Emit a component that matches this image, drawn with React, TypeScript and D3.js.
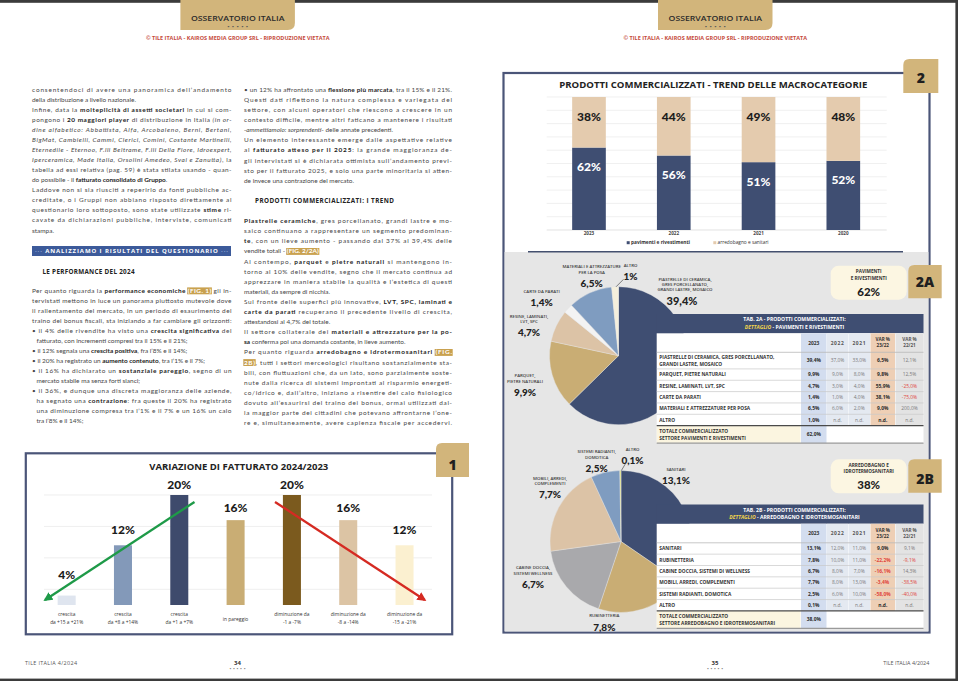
import React, { useLayoutEffect, useRef } from "react";
import * as d3 from "d3";

const BODY = "Lato, 'Open Sans', sans-serif";
const HEAD = "'Open Sans', Lato, sans-serif";
const HEAVY = "Lato, 'Open Sans', sans-serif";

// ---------------- DATA ----------------
const FIG1_CATEGORIES = ["c15-21", "c8-14", "c1-7", "pareggio", "d1-7", "d8-14", "d15-21"];
const FIG1_CATEGORY_LINES = [
  ["crescita", "da +15 a +21%"],
  ["crescita", "da +8 a +14%"],
  ["crescita", "da +1 a +7%"],
  ["in pareggio"],
  ["diminuzione da", "-1 a -7%"],
  ["diminuzione da", "-8 a -14%"],
  ["diminuzione da", "-15 a -21%"],
];
const FIG1_VALUES = [4, 12, 20, 16, 20, 16, 12];
const FIG1_GRID = [5, 10, 15, 20];
// trend arrows in data space: [category index (fractional), value]
const FIG1_ARROW_GREEN = [[2.27, 18.9], [-0.385, 3.3]];
const FIG1_ARROW_RED = [[3.7, 18.9], [6.36, 3.3]];

const FIG2_YEARS = ["2023", "2022", "2021", "2020"];
const FIG2_PAVIMENTI = [62, 56, 51, 52];
const FIG2_ARREDO = [38, 44, 49, 48];
const FIG2_SERIES = ["pavimenti e rivestimenti", "arredobagno e sanitari"];

const PIE_A_NAMES = [
  ["PIASTRELLE DI CERAMICA,", "GRES PORCELLANATO,", "GRANDI LASTRE, MOSAICO"],
  ["PARQUET,", "PIETRE NATURALI"],
  ["RESINE, LAMINATI,", "LVT, SPC"],
  ["CARTE DA PARATI"],
  ["MATERIALI E ATTREZZATURE", "PER LA POSA"],
  ["ALTRO"],
];
const PIE_A_VALUES = [39.4, 9.9, 4.7, 1.4, 6.5, 1.0];
const PIE_A_LABELS = ["39,4%", "9,9%", "4,7%", "1,4%", "6,5%", "1%"];

const PIE_B_NAMES = [
  ["SANITARI"],
  ["RUBINETTERIA"],
  ["CABINE DOCCIA,", "SISTEMI WELLNESS"],
  ["MOBILI, ARREDI,", "COMPLEMENTI"],
  ["SISTEMI RADIANTI,", "DOMOTICA"],
  ["ALTRO"],
];
const PIE_B_VALUES = [13.1, 7.8, 6.7, 7.7, 2.5, 0.1];
const PIE_B_LABELS = ["13,1%", "7,8%", "6,7%", "7,7%", "2,5%", "0,1%"];

const TAB_A_ROWS = [
  ["PIASTRELLE DI CERAMICA, GRES PORCELLANATO,", "GRANDI LASTRE, MOSAICO"],
  ["PARQUET, PIETRE NATURALI"],
  ["RESINE, LAMINATI, LVT, SPC"],
  ["CARTE DA PARATI"],
  ["MATERIALI E ATTREZZATURE PER POSA"],
  ["ALTRO"],
];
const TAB_A_2023 = ["39,4%", "9,9%", "4,7%", "1,4%", "6,5%", "1,0%"];
const TAB_A_2022 = ["37,0%", "9,0%", "3,0%", "1,0%", "6,0%", "n.d."];
const TAB_A_2021 = ["33,0%", "8,0%", "4,0%", "4,0%", "2,0%", "n.d."];
const TAB_A_VAR1 = ["6,5%", "9,8%", "55,9%", "38,1%", "9,0%", "n.d."];
const TAB_A_VAR2 = ["12,1%", "12,5%", "-25,0%", "-75,0%", "200,0%", "n.d."];
const TAB_A_TOTAL = "62,0%";

const TAB_B_ROWS = [
  ["SANITARI"],
  ["RUBINETTERIA"],
  ["CABINE DOCCIA, SISTEMI DI WELLNESS"],
  ["MOBILI, ARREDI, COMPLEMENTI"],
  ["SISTEMI RADIANTI, DOMOTICA"],
  ["ALTRO"],
];
const TAB_B_2023 = ["13,1%", "7,8%", "6,7%", "7,7%", "2,5%", "0,1%"];
const TAB_B_2022 = ["12,0%", "10,0%", "8,0%", "8,0%", "6,0%", "n.d."];
const TAB_B_2021 = ["11,0%", "11,0%", "7,0%", "13,0%", "10,0%", "n.d."];
const TAB_B_VAR1 = ["9,0%", "-22,2%", "-16,1%", "-3,4%", "-58,0%", "n.d."];
const TAB_B_VAR2 = ["9,1%", "-9,1%", "14,3%", "-38,5%", "-40,0%", "n.d."];
const TAB_B_TOTAL = "38,0%";

const TAB_HEAD = [["2023"], ["2022"], ["2021"], ["VAR %", "23/22"], ["VAR %", "22/21"]];

const COL1_A = [
  { t: "consentendoci di avere una panoramica dell’andamento", j: 1 },
  { t: "della distribuzione a livello nazionale.", j: 0 },
  { t: "Infine, data la **molteplicità di assetti societari** in cui si com-", j: 1 },
  { t: "pongono i **20 maggiori player** di distribuzione in Italia _(in or-_", j: 1 },
  { t: "_dine alfabetico: Abbattista, Alfa, Arcobaleno, Berni, Bertani,_", j: 1 },
  { t: "_BigMat, Cambielli, Cammi, Clerici, Comini, Costante Martinelli,_", j: 1 },
  { t: "_Eternedile - Eternoo, F.lli Beltrame, F.lli Della Fiore, Idroexpert,_", j: 1 },
  { t: "_Iperceramica, Made Italia, Orsolini Amedeo, Svai e Zanutta)_, la", j: 1 },
  { t: "tabella ad essi relativa (pag. 59) è stata stilata usando - quan-", j: 1 },
  { t: "do possibile - il **fatturato consolidato di Gruppo**.", j: 0 },
  { t: "Laddove non si sia riusciti a reperirlo da fonti pubbliche ac-", j: 1 },
  { t: "creditate, o i Gruppi non abbiano risposto direttamente al", j: 1 },
  { t: "questionario loro sottoposto, sono state utilizzate **stime** ri-", j: 1 },
  { t: "cavate da dichiarazioni pubbliche, interviste, comunicati", j: 1 },
  { t: "stampa.", j: 0 },
];
const COL1_B = [
  { t: "Per quanto riguarda la **performance economiche** {{(FIG. 1)}} gli in-", j: 1 },
  { t: "tervistati mettono in luce un panorama piuttosto mutevole dove", j: 1 },
  { t: "il rallentamento del mercato, in un periodo di esaurimento del", j: 1 },
  { t: "traino dei bonus fiscali, sta iniziando a far cambiare gli orizzonti:", j: 1 },
  { t: "• il 4% delle rivendite ha visto una **crescita significativa** del", j: 1 },
  { t: "fatturato, con incrementi compresi tra il 15% e il 21%;", j: 0, ind: 1 },
  { t: "• il 12% segnala una **crescita positiva**, fra l’8% e il 14%;", j: 0 },
  { t: "• il 20% ha registrato un **aumento contenuto**, tra l’1% e il 7%;", j: 0 },
  { t: "• il 16% ha dichiarato un **sostanziale pareggio**, segno di un", j: 1 },
  { t: "mercato stabile ma senza forti slanci;", j: 0, ind: 1 },
  { t: "• il 36%, e dunque una discreta maggioranza delle aziende,", j: 1 },
  { t: "ha segnato una **contrazione**: fra queste il 20% ha registrato", j: 1, ind: 1 },
  { t: "una diminuzione compresa tra l’1% e il 7% e un 16% un calo", j: 1, ind: 1 },
  { t: "tra l’8% e il 14%;", j: 0, ind: 1 },
];
const COL2_A = [
  { t: "• un 12% ha affrontato una **flessione più marcata**, tra il 15% e il 21%.", j: 1 },
  { t: "Questi dati riflettono la natura complessa e variegata del", j: 1 },
  { t: "settore, con alcuni operatori che riescono a crescere in un", j: 1 },
  { t: "contesto difficile, mentre altri faticano a mantenere i risultati", j: 1 },
  { t: "_-ammettiamolo: sorprendenti-_ delle annate precedenti.", j: 0 },
  { t: "Un elemento interessante emerge dalle aspettative relative", j: 1 },
  { t: "al **fatturato atteso per il 2025**: la grande maggioranza de-", j: 1 },
  { t: "gli intervistati si è dichiarata ottimista sull’andamento previ-", j: 1 },
  { t: "sto per il fatturato 2025, e solo una parte minoritaria si atten-", j: 1 },
  { t: "de invece una contrazione del mercato.", j: 0 },
];
const COL2_B = [
  { t: "**Piastrelle ceramiche**, gres porcellanato, grandi lastre e mo-", j: 1 },
  { t: "saico continuano a rappresentare un segmento predominan-", j: 1 },
  { t: "**te**, con un lieve aumento - passando dal 37% al 39,4% delle", j: 1 },
  { t: "vendite totali - {{(FIG. 2/2A)}}", j: 0 },
  { t: "Al contempo, **parquet** e **pietre naturali** si mantengono in-", j: 1 },
  { t: "torno al 10% delle vendite, segno che il mercato continua ad", j: 1 },
  { t: "apprezzare in maniera stabile la qualità e l’estetica di questi", j: 1 },
  { t: "materiali, da sempre di nicchia.", j: 0 },
  { t: "Sul fronte delle superfici più innovative, **LVT, SPC, laminati e**", j: 1 },
  { t: "**carte da parati** recuperano il precedente livello di crescita,", j: 1 },
  { t: "attestandosi al 4,7% del totale.", j: 0 },
  { t: "Il settore collaterale dei **materiali e attrezzature per la po-**", j: 1 },
  { t: "**sa** conferma poi una domanda costante, in lieve aumento.", j: 0 },
  { t: "Per quanto riguarda **arredobagno e idrotermosanitari** {{(FIG.}}", j: 1 },
  { t: "{{2B)}}, tutti i settori merceologici risultano sostanzialmente sta-", j: 1 },
  { t: "bili, con fluttuazioni che, da un lato, sono parzialmente soste-", j: 1 },
  { t: "nute dalla ricerca di sistemi improntati al risparmio energeti-", j: 1 },
  { t: "co/idrico e, dall’altro, iniziano a risentire del calo fisiologico", j: 1 },
  { t: "dovuto all’esaurirsi del traino dei bonus, ormai utilizzati dal-", j: 1 },
  { t: "la maggior parte dei cittadini che potevano affrontarne l’one-", j: 1 },
  { t: "re e, simultaneamente, avere capienza fiscale per accedervi.", j: 1 },
];

// ---------------- STYLE / LAYOUT ----------------
const NAVY = "#3f4e72";
const TAN = "#d2b57b";
const FIG1_COLORS = ["#dfe5ef", "#8399b9", "#3e4a6c", "#c9ad74", "#7b5a1e", "#dcc4a4", "#fbf0d0"];
const FIG2_COLORS = [NAVY, "#e4cbae"];
const PIE_A_COLORS = [NAVY, "#c9ad74", "#dcc3a6", "#f3f3f3", "#7f9cc0", "#f4efdc"];
const PIE_B_COLORS = [NAVY, "#c9ad74", "#a9a9ac", "#dcc3a6", "#7f9cc0", "#dfe07a"];
const PIE_A_LAYOUT = [[66.5, -76.7], [-93.5, 20], [-89.5, -39.7], [-76.8, -64.7], [-26.8, -89], [12, -90.7]];
const PIE_B_LAYOUT = [[55, -72.2], [-16.7, 74.2], [-88, 26.2], [-71, -63.2], [-24.3, -89.8], [11.5, -92.2]];
const TABLE_COLS = [
  { x0: 801, x1: 826.5, bg: "#d3ddef" },
  { x0: 827, x1: 848, bg: "#e4e9f1" },
  { x0: 848.5, x1: 870, bg: "#e4e9f1" },
  { x0: 870.5, x1: 895, bg: "#eecfb5" },
  { x0: 895.5, x1: 923.5, bg: "#e3e3e3" },
];
const TAB_X0 = 656.7;
const TAB_X1 = 923.5;

type Seg = { t: string; b?: boolean; i?: boolean; hl?: boolean };
function parse(s: string): Seg[] {
  return s
    .split(/(\*\*[^*]+\*\*|_[^_]+_|\{\{[^}]+\}\})/)
    .filter((p) => p.length)
    .map((p) => {
      if (p.startsWith("**")) return { t: p.slice(2, -2), b: true };
      if (p.startsWith("{{")) return { t: p.slice(2, -2), hl: true };
      if (p.length > 1 && p.startsWith("_") && p.endsWith("_")) return { t: p.slice(1, -1), i: true };
      return { t: p };
    });
}

function Lines({ lines, x, width, base, step, start }: any) {
  return (
    <g>
      {lines.map((ln: any, k: number) => {
        const ind = ln.ind ? 4.4 : 0;
        const segs = parse(ln.t);
        return (
          <text
            key={k}
            x={x + ind}
            y={base + (start + k) * step}
            fontSize={6.45}
            fill="#474747"
            fontFamily={BODY}
            textLength={ln.j ? width - ind : undefined}
            lengthAdjust="spacing"
          >
            {segs.map((s, m) => (
              <tspan
                key={m}
                className={s.hl ? "hl" : undefined}
                fontWeight={s.b || s.hl ? 700 : undefined}
                fontStyle={s.i ? "italic" : undefined}
                fill={s.hl ? "#ffffff" : s.b ? "#222" : undefined}
              >
                {s.t}
              </tspan>
            ))}
          </text>
        );
      })}
    </g>
  );
}

function tagPath(x: number, y: number, w: number, h: number, r: number) {
  return `M${x},${y + h} V${y + r} Q${x},${y} ${x + r},${y} H${x + w} V${y + h} Z`;
}
function headerTabPath(x: number, y: number, w: number, h: number, r: number) {
  return `M${x},${y} H${x + w} V${y + h - r} Q${x + w},${y + h} ${x + w - r},${y + h} H${x} Z`;
}

function HeaderTab({ cx }: { cx: number }) {
  return (
    <g>
      <path d={headerTabPath(cx - 57.3, 0, 114.5, 30, 7)} fill={TAN} />
      <text x={cx} y={20.5} textAnchor="middle" fontFamily={HEAD} fontWeight={600} fontSize={7.6} fill="#2b2b2b" textLength={93.5} lengthAdjust="spacingAndGlyphs">
        OSSERVATORIO ITALIA
      </text>
      <text x={cx} y={27.6} textAnchor="middle" fontSize={4} fill="#5a5a5a" textLength={21} lengthAdjust="spacing">
        •••••
      </text>
      <text x={cx} y={40} textAnchor="middle" fontFamily={HEAD} fontWeight={700} fontSize={4.7} fill="#c54b3c" textLength={183.5} lengthAdjust="spacingAndGlyphs">
        © TILE ITALIA - KAIROS MEDIA GROUP SRL - RIPRODUZIONE VIETATA
      </text>
    </g>
  );
}

function Tag({ x, y, w, h, label, base }: any) {
  return (
    <g>
      <path d={tagPath(x, y, w, h, 6)} fill={TAN} />
      <text x={x + w / 2} y={base} textAnchor="middle" fontFamily={HEAD} fontWeight={800} fontSize={14} fill="#1f1f1f">
        {label}
      </text>
    </g>
  );
}

function Callout({ y, lines, value }: any) {
  return (
    <g>
      <rect x={830.7} y={y} width={76} height={34} rx={8} fill="#fcf6e2" />
      {lines.map((l: string, k: number) => (
        <text key={k} x={868.7} y={y + 7.7 + k * 6.3} textAnchor="middle" fontFamily={HEAD} fontWeight={700} fontSize={4.7} fill="#333">
          {l}
        </text>
      ))}
      <text x={868.7} y={y + 29.8} textAnchor="middle" fontFamily={HEAVY} fontWeight={900} fontSize={11.5} fill="#1e1e1e">
        {value}
      </text>
    </g>
  );
}

function Pie({ cx, cy, r, values, colors, names, labels, layout, leader }: any) {
  const pie = d3.pie<number>().sort(null).value((d) => d)(values);
  const arc = d3.arc<d3.PieArcDatum<number>>().innerRadius(0).outerRadius(r);
  return (
    <g>
      <g transform={`translate(${cx},${cy})`}>
        {pie.map((d, k) => (
          <path key={k} d={arc(d) || ""} fill={colors[k]} stroke="#e6e6e6" strokeWidth={0.4} />
        ))}
      </g>
      {names.map((nm: string[], k: number) => {
        const [dx, dy] = layout[k];
        const lx = cx + dx;
        const ly = cy + dy;
        const vy = ly + (nm.length - 1) * 5.2 + (nm.length > 2 ? 12.4 : 11.3);
        return (
          <g key={k}>
            {nm.map((s, m) => (
              <text key={m} x={lx} y={ly + m * 5.2 + 1.6} textAnchor="middle" fontFamily={HEAD} fontWeight={600} fontSize={4.3} fill="#3a3a3a">
                {s}
              </text>
            ))}
            <text x={lx - (nm.length > 2 ? 3 : 0)} y={vy + 3.6} textAnchor="middle" fontFamily={HEAVY} fontWeight={900} fontSize={nm.length > 2 ? 11 : 10} fill="#222">
              {labels[k]}
            </text>
            {k === leader
              ? (() => {
                  const a = (pie[k].startAngle + pie[k].endAngle) / 2;
                  const px = cx + r * Math.sin(a);
                  const py = cy - r * Math.cos(a);
                  return <line x1={px + 1} y1={py} x2={lx - 7} y2={vy + 3} stroke="#333" strokeWidth={0.6} />;
                })()
              : null}
          </g>
        );
      })}
    </g>
  );
}

function Table({ top, code, subtitle, rows, cols, total, totalLines }: any) {
  const bandH = 19.3;
  const headH = 19;
  const totalH = 17.5;
  const headTop = top + bandH;
  const rowTops: number[] = [];
  let yy = headTop + headH;
  const hs = rows.map((r: string[]) => (r.length > 1 ? 16.6 : 11.35));
  hs.forEach((h: number) => {
    rowTops.push(yy);
    yy += h;
  });
  const totTop = yy;
  const bottom = totTop + totalH;
  const tcx = 794.5;
  return (
    <g fontFamily={HEAD}>
      <rect x={TAB_X0} y={top} width={TAB_X1 - TAB_X0} height={bandH} fill={NAVY} />
      <text x={tcx} y={top + 7.3} textAnchor="middle" fontWeight={700} fontSize={5.1} fill="#fff">
        {`TAB. ${code} - PRODOTTI COMMERCIALIZZATI:`}
      </text>
      <text x={tcx} y={top + 14.7} textAnchor="middle" fontWeight={700} fontSize={5.1} fill="#fff">
        <tspan fill="#f3d54c" fontStyle="italic">DETTAGLIO</tspan>
        <tspan>{` - ${subtitle}`}</tspan>
      </text>
      <rect x={TAB_X0} y={headTop} width={TAB_X1 - TAB_X0} height={bottom - headTop} fill="#fff" />
      {TABLE_COLS.map((c, k) => (
        <rect key={k} x={c.x0} y={headTop} width={c.x1 - c.x0} height={totTop - headTop} fill={c.bg} />
      ))}
      <rect x={TAB_X0} y={totTop} width={800.5 - TAB_X0} height={totalH} fill="#fbf5e0" />
      <rect x={TABLE_COLS[0].x0} y={totTop} width={TABLE_COLS[0].x1 - TABLE_COLS[0].x0} height={totalH} fill={TABLE_COLS[0].bg} />
      {TAB_HEAD.map((h, k) => {
        const c = TABLE_COLS[k];
        const cx = (c.x0 + c.x1) / 2;
        const mid = headTop + headH / 2;
        return h.length === 1 ? (
          <text key={k} x={cx} y={mid + 1.8} textAnchor="middle" fontWeight={700} fontSize={4.9} fill={k === 0 ? "#333" : "#555"} letterSpacing={k === 0 ? 0 : 0.6}>
            {h[0]}
          </text>
        ) : (
          <g key={k}>
            {h.map((s, m) => (
              <text key={m} x={cx} y={mid - 1.8 + m * 6.2} textAnchor="middle" fontWeight={700} fontSize={4.6} fill={k === 3 ? "#333" : "#555"}>
                {s}
              </text>
            ))}
          </g>
        );
      })}
      <line x1={TAB_X0} x2={TAB_X1} y1={headTop + headH} y2={headTop + headH} stroke="#b9b9b9" strokeWidth={0.8} />
      {rows.map((r: string[], k: number) => {
        const t = rowTops[k];
        const h = hs[k];
        const mid = t + h / 2;
        return (
          <g key={k}>
            {r.map((s, m) => (
              <text key={m} x={659.3} y={mid + 1.7 + (m - (r.length - 1) / 2) * 6.6} fontWeight={700} fontSize={4.8} fill="#333">
                {s}
              </text>
            ))}
            {cols.map((col: string[], ci: number) => {
              const c = TABLE_COLS[ci];
              const v = col[k];
              const neg = v.startsWith("-");
              const bold = ci === 0 || ci === 3;
              return (
                <text key={ci} x={(c.x0 + c.x1) / 2} y={mid + 1.8} textAnchor="middle" fontWeight={bold ? 700 : 400} fontSize={4.9} fill={neg ? "#e0473d" : bold ? "#2d2d2d" : "#7a7a7a"}>
                  {v}
                </text>
              );
            })}
            {k < rows.length - 1 ? <line x1={TAB_X0} x2={TAB_X1} y1={t + h} y2={t + h} stroke="#c9c9c9" strokeWidth={0.7} /> : null}
          </g>
        );
      })}
      <line x1={TAB_X0} x2={TAB_X1} y1={totTop} y2={totTop} stroke="#4a4a4a" strokeWidth={1.2} />
      {totalLines.map((s: string, m: number) => (
        <text key={m} x={659.3} y={totTop + totalH / 2 + 1.7 + (m - 0.5) * 7.2} fontWeight={700} fontSize={4.8} fill="#333">
          {s}
        </text>
      ))}
      <text x={(TABLE_COLS[0].x0 + TABLE_COLS[0].x1) / 2} y={totTop + totalH / 2 + 1.8} textAnchor="middle" fontWeight={700} fontSize={4.9} fill="#2d2d2d">
        {total}
      </text>
      <line x1={TAB_X0} x2={TAB_X1} y1={bottom} y2={bottom} stroke="#9a9a9a" strokeWidth={1.4} />
    </g>
  );
}

export default function App() {
  const ref = useRef<SVGSVGElement>(null);

  useLayoutEffect(() => {
    const draw = () => {
      if (!ref.current) return;
      const svg = d3.select(ref.current);
      svg.selectAll("rect.hlbg").remove();
      svg.selectAll<SVGTSpanElement, unknown>("tspan.hl").each(function () {
        const n = this.getNumberOfChars();
        if (!n) return;
        const s = this.getStartPositionOfChar(0);
        const e = this.getEndPositionOfChar(n - 1);
        const text = this.parentNode as SVGTextElement;
        const parent = text.parentNode as SVGGElement;
        d3.select(parent)
          .insert("rect", () => text)
          .attr("class", "hlbg")
          .attr("x", s.x - 0.7)
          .attr("y", s.y - 5.4)
          .attr("width", e.x - s.x + 1.4)
          .attr("height", 6.9)
          .attr("fill", "#c9a14f");
      });
    };
    draw();
    if ((document as any).fonts && (document as any).fonts.ready) (document as any).fonts.ready.then(draw);
  }, []);

  // Fig 1 scales
  const x1 = d3.scaleBand<string>().domain(FIG1_CATEGORIES).range([38.5, 432.7]).paddingInner(0.68).paddingOuter(0.34);
  const y1 = d3.scaleLinear().domain([2.5, 20]).range([605, 495]);
  const bw1 = x1.bandwidth();
  const xi = (i: number) => (x1(FIG1_CATEGORIES[0]) as number) + bw1 / 2 + i * x1.step();
  const arrows = [
    { p: FIG1_ARROW_GREEN, c: "#1e9a48", id: "arrG" },
    { p: FIG1_ARROW_RED, c: "#d52a22", id: "arrR" },
  ];

  // Fig 2 scales
  const x2 = d3.scaleBand<string>().domain(FIG2_YEARS).range([546.6, 885.7]).paddingInner(0.603).paddingOuter(0.3015);
  const y2 = d3.scaleLinear().domain([0, 100]).range([230, 97]);
  const rows2 = FIG2_YEARS.map((yr, i) => ({ year: yr, pav: FIG2_PAVIMENTI[i], arr: FIG2_ARREDO[i] }));
  const stack = d3.stack<any>().keys(["pav", "arr"])(rows2);
  const grid2 = d3.range(0, 11).map((i) => i * 10);

  return (
    <svg
      ref={ref}
      width={958}
      height={681}
      viewBox="0 0 958 681"
      style={{ position: "absolute", left: 0, top: 0, background: "#fff" }}
      fontFamily={BODY}
    >
      <defs>
        {arrows.map((a) => (
          <marker key={a.id} id={a.id} viewBox="0 0 10 10" refX={8} refY={5} markerWidth={9} markerHeight={9} markerUnits="userSpaceOnUse" orient="auto">
            <path d="M0,0 L10,5 L0,10 z" fill={a.c} />
          </marker>
        ))}
      </defs>
      <rect x={0} y={0} width={958} height={681} fill="#fff" />
      <rect x={0} y={0} width={958} height={2.8} fill="#3b3b3b" />
      <rect x={0} y={678.6} width={958} height={2.4} fill="#3b3b3b" />
      <rect x={955.4} y={0} width={2.6} height={681} fill="#3b3b3b" />

      <HeaderTab cx={237.7} />
      <HeaderTab cx={715.3} />

      {/* LEFT PAGE TEXT */}
      <Lines lines={COL1_A} x={32} width={199.5} base={91.8} step={10.05} start={0} />
      <rect x={32} y={246} width={199} height={10} fill="#3c5a9a" />
      <text x={131.5} y={253.3} textAnchor="middle" fontFamily={HEAD} fontWeight={700} fontSize={6} fill="#fff" textLength={193} lengthAdjust="spacing">
        <tspan fill="#9fb3da">{"··· "}</tspan>
        <tspan>ANALIZZIAMO I RISULTATI DEL QUESTIONARIO</tspan>
        <tspan fill="#9fb3da">{" ···"}</tspan>
      </text>
      <text x={42.5} y={274} fontFamily={HEAD} fontWeight={700} fontSize={6.3} fill="#222" textLength={92} lengthAdjust="spacing">
        LE PERFORMANCE DEL 2024
      </text>
      <Lines lines={COL1_B} x={32} width={199.5} base={91.8} step={10.05} start={20} />

      <Lines lines={COL2_A} x={244} width={208} base={91.8} step={10.1} start={0} />
      <text x={255} y={203} fontFamily={HEAD} fontWeight={700} fontSize={6.3} fill="#222" textLength={139} lengthAdjust="spacing">
        PRODOTTI COMMERCIALIZZATI: I TREND
      </text>
      <Lines lines={COL2_B} x={244} width={208} base={91.8} step={10.1} start={13} />

      {/* FIG 1 */}
      <rect x={25.8} y={453.3} width={426.4} height={181} fill="#fff" stroke="#4b5578" strokeWidth={2.2} />
      <Tag x={436} y={443} w={33} h={34} label="1" base={470} />
      <text x={238.8} y={469.5} textAnchor="middle" fontFamily={HEAD} fontWeight={700} fontSize={8.6} fill="#222" textLength={179} lengthAdjust="spacingAndGlyphs">
        VARIAZIONE DI FATTURATO 2024/2023
      </text>
      {FIG1_GRID.map((g) => (
        <line key={g} x1={44} x2={432} y1={y1(g)} y2={y1(g)} stroke="#e7e7e7" strokeWidth={0.7} />
      ))}
      {FIG1_CATEGORIES.map((c, i) => (
        <rect key={c} x={x1(c)} y={y1(FIG1_VALUES[i])} width={bw1} height={y1(2.5) - y1(FIG1_VALUES[i])} fill={FIG1_COLORS[i]} />
      ))}
      {FIG1_CATEGORIES.map((c, i) => {
        const v = FIG1_VALUES[i];
        const cy = y1(v) - 10 - (20 - v) * 0.7;
        return (
          <text key={c} x={(x1(c) as number) + bw1 / 2} y={cy + 4.3} textAnchor="middle" fontFamily={HEAVY} fontWeight={900} fontSize={12} fill="#1c1c1c">
            {`${v}%`}
          </text>
        );
      })}
      {FIG1_CATEGORY_LINES.map((ls, i) => (
        <g key={i}>
          {ls.map((s, m) => (
            <text key={m} x={(x1(FIG1_CATEGORIES[i]) as number) + bw1 / 2} y={(ls.length === 1 ? 620.8 : 615.8) + m * 8} textAnchor="middle" fontFamily={HEAD} fontSize={4.9} fill="#333">
              {s}
            </text>
          ))}
        </g>
      ))}
      {arrows.map((a) => (
        <line key={a.id} x1={xi(a.p[0][0])} y1={y1(a.p[0][1])} x2={xi(a.p[1][0])} y2={y1(a.p[1][1])} stroke={a.c} strokeWidth={2.3} markerEnd={`url(#${a.id})`} />
      ))}

      {/* footers */}
      <text x={25} y={665} fontFamily={HEAD} fontSize={5.4} fill="#555" textLength={52} lengthAdjust="spacing">
        TILE ITALIA 4/2024
      </text>
      <text x={237.5} y={664.6} textAnchor="middle" fontFamily={HEAD} fontWeight={700} fontSize={6} fill="#333">34</text>
      <text x={237.5} y={669.6} textAnchor="middle" fontSize={3.2} fill="#888" textLength={16} lengthAdjust="spacing">•••••</text>
      <text x={715} y={664.6} textAnchor="middle" fontFamily={HEAD} fontWeight={700} fontSize={6} fill="#333">35</text>
      <text x={715} y={669.6} textAnchor="middle" fontSize={3.2} fill="#888" textLength={16} lengthAdjust="spacing">•••••</text>
      <text x={929.3} y={665} textAnchor="end" fontFamily={HEAD} fontSize={5.4} fill="#555">
        TILE ITALIA 4/2024
      </text>

      {/* FIG 2 box */}
      <rect x={503.5} y={73} width={426} height={559.5} fill="#fff" stroke="#4b5578" strokeWidth={2.2} />
      <rect x={504.6} y={252} width={423.8} height={379.4} fill="#e6e6e6" />
      <line x1={528} x2={903} y1={251.7} y2={251.7} stroke="#44506f" strokeWidth={1.4} />
      <text x={713.3} y={87.6} textAnchor="middle" fontFamily={HEAD} fontWeight={700} fontSize={8.6} fill="#222" textLength={308} lengthAdjust="spacingAndGlyphs">
        PRODOTTI COMMERCIALIZZATI - TREND DELLE MACROCATEGORIE
      </text>
      {grid2.map((g) => (
        <line key={g} x1={546.7} x2={886.7} y1={y2(g)} y2={y2(g)} stroke={g === 0 ? "#d6d6d6" : "#e9e9e9"} strokeWidth={0.7} />
      ))}
      {stack.map((s, si) => (
        <g key={si}>
          {s.map((d: any, k: number) => (
            <rect key={k} x={x2(d.data.year)} y={y2(d[1])} width={x2.bandwidth()} height={y2(d[0]) - y2(d[1])} fill={FIG2_COLORS[si]} />
          ))}
          {s.map((d: any, k: number) => (
            <text key={`t${k}`} x={(x2(d.data.year) as number) + x2.bandwidth() / 2} y={y2(d[1]) + 19.3 + 4.3} textAnchor="middle" fontFamily={HEAVY} fontWeight={900} fontSize={12} fill={si === 0 ? "#fff" : "#1c1c1c"}>
              {`${d[1] - d[0]}%`}
            </text>
          ))}
        </g>
      ))}
      {FIG2_YEARS.map((yr) => (
        <text key={yr} x={(x2(yr) as number) + x2.bandwidth() / 2} y={235.2} textAnchor="middle" fontFamily={HEAD} fontWeight={700} fontSize={4.6} fill="#444">
          {yr}
        </text>
      ))}
      {FIG2_SERIES.map((s, k) => {
        const lx = k === 0 ? 626.7 : 713.3;
        return (
          <g key={s}>
            <rect x={lx} y={241.2} width={3} height={3} fill={FIG2_COLORS[k]} />
            <text x={lx + 4.3} y={244.4} fontFamily={HEAD} fontWeight={k === 0 ? 700 : 400} fontSize={4.8} fill="#333">
              {s}
            </text>
          </g>
        );
      })}

      {/* PIE 2A */}
      <Pie cx={618.5} cy={355.7} r={69} values={PIE_A_VALUES} colors={PIE_A_COLORS} names={PIE_A_NAMES} labels={PIE_A_LABELS} layout={PIE_A_LAYOUT} leader={5} />
      <Table
        top={314}
        code="2A"
        subtitle="PAVIMENTI E RIVESTIMENTI"
        rows={TAB_A_ROWS}
        cols={[TAB_A_2023, TAB_A_2022, TAB_A_2021, TAB_A_VAR1, TAB_A_VAR2]}
        total={TAB_A_TOTAL}
        totalLines={["TOTALE COMMERCIALIZZATO", "SETTORE PAVIMENTI E RIVESTIMENTI"]}
      />
      <Callout y={265.7} lines={["PAVIMENTI", "E RIVESTIMENTI"]} value="62%" />
      <Tag x={908.3} y={265} w={33.4} h={33.3} label="2A" base={287.3} />

      {/* PIE 2B */}
      <Pie cx={621} cy={541.5} r={71} values={PIE_B_VALUES} colors={PIE_B_COLORS} names={PIE_B_NAMES} labels={PIE_B_LABELS} layout={PIE_B_LAYOUT} leader={5} />
      <Table
        top={504.5}
        code="2B"
        subtitle="ARREDOBAGNO E IDROTERMOSANITARI"
        rows={TAB_B_ROWS}
        cols={[TAB_B_2023, TAB_B_2022, TAB_B_2021, TAB_B_VAR1, TAB_B_VAR2]}
        total={TAB_B_TOTAL}
        totalLines={["TOTALE COMMERCIALIZZATO", "SETTORE  ARREDOBAGNO E IDROTERMOSANITARI"]}
      />
      <Callout y={459.3} lines={["ARREDOBAGNO E", "IDROTERMOSANITARI"]} value="38%" />
      <Tag x={908.3} y={459.3} w={33.4} h={33.4} label="2B" base={484.3} />

      <Tag x={903.3} y={59} w={35} h={34} label="2" base={83} />
    </svg>
  );
}
